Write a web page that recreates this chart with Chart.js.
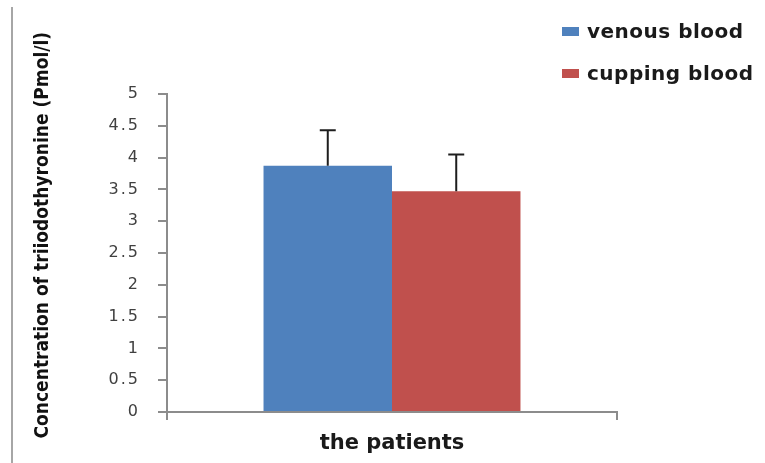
<!DOCTYPE html>
<html>
<head>
<meta charset="utf-8">
<script src="https://cdn.jsdelivr.net/npm/chart.js@4/dist/chart.umd.min.js"></script>
<style>
  html, body { margin: 0; padding: 0; background: #fff; }
  #wrap { width: 765px; height: 463px; }
</style>
</head>
<body>
<div id="wrap"><canvas id="chart"></canvas></div>
<script>
const categories = ['the patients'];
const seriesNames = ['venous blood', 'cupping blood'];
const venousValues = [3.87];
const cuppingValues = [3.47];
const venousErrors = [0.56];
const cuppingErrors = [0.58];
const yTicks = [0, 0.5, 1, 1.5, 2, 2.5, 3, 3.5, 4, 4.5, 5];
const yTitle = 'Concentration of triiodothyronine (Pmol/l)';

const axisGrey = '#8c8c8c';

// error bars on top of each bar
const errorBars = {
    id: 'errorBars',
    afterDatasetsDraw (chart) {
        const ctx = chart.ctx;
        const y = chart.scales.y;
        ctx.save();
        ctx.strokeStyle = '#1e1e1e';
        ctx.lineWidth = 2;
        chart.data.datasets.forEach((ds, i) => {
            chart.getDatasetMeta(i).data.forEach((bar, j) => {
                const top = y.getPixelForValue(ds.data[j] + ds.errors[j]);
                ctx.beginPath();
                ctx.moveTo(bar.x, bar.y);
                ctx.lineTo(bar.x, top);
                ctx.moveTo(bar.x - 8, top);
                ctx.lineTo(bar.x + 8, top);
                ctx.stroke();
            });
        });
        ctx.restore();
    }
};

// the y tick labels in the picture are wide, so space their letters a little
const wideTicks = {
    id: 'wideTicks',
    afterLayout (chart) {
        const scale = chart.scales.y;
        if (scale._wide) return;
        const orig = scale.drawLabels;
        scale.drawLabels = function (area) {
            const ctx = this.ctx;
            ctx.save();
            ctx.letterSpacing = '2px';
            orig.call(this, area);
            ctx.restore();
        };
        scale._wide = true;
    }
};

// legend in the top right corner and the frame line at the left
const sideBits = {
    id: 'sideBits',
    afterDraw (chart) {
        const ctx = chart.ctx;
        ctx.save();
        ctx.fillStyle = '#a6a6a6';
        ctx.fillRect(11, 7, 2, 456);
        ctx.font = 'bold 20px "DejaVu Sans"';
        ctx.letterSpacing = '0.5px';
        ctx.textBaseline = 'alphabetic';
        chart.data.datasets.forEach((ds, i) => {
            const yy = 38 + i * 42;
            ctx.fillStyle = ds.backgroundColor;
            ctx.fillRect(562, yy - 11, 17, 9);
            ctx.fillStyle = '#1a1a1a';
            ctx.fillText(ds.label, 587, yy);
        });
        ctx.restore();
    }
};

new Chart(document.getElementById('chart'), {
    type: 'bar',
    data: {
        labels: categories,
        datasets: [
            { label: seriesNames[0], data: venousValues, errors: venousErrors, backgroundColor: '#4f81bd' },
            { label: seriesNames[1], data: cuppingValues, errors: cuppingErrors, backgroundColor: '#c0504d' }
        ]
    },
    options: {
        responsive: true,
        maintainAspectRatio: false,
        animation: false,
        layout: { padding: { top: 94, right: 148, bottom: 0, left: 0 } },
        plugins: {
            legend: { display: false },
            tooltip: { enabled: false }
        },
        datasets: {
            bar: { categoryPercentage: 0.571, barPercentage: 1 }
        },
        scales: {
            x: {
                grid: { display: true, drawOnChartArea: false, offset: true, color: axisGrey, tickLength: 8, lineWidth: 2 },
                border: { color: axisGrey, width: 2 },
                ticks: { display: false },
                title: {
                    display: true,
                    text: categories[0],
                    color: '#1a1a1a',
                    font: { family: 'DejaVu Sans', weight: 'bold', size: 21 },
                    padding: { top: 0, bottom: 7 }
                },
                afterFit: (scale) => { scale.height = 51; }
            },
            y: {
                min: 0,
                max: 5,
                afterBuildTicks: (scale) => { scale.ticks = yTicks.map(v => ({ value: v })); },
                grid: { display: true, drawOnChartArea: false, color: axisGrey, tickLength: 9, lineWidth: 2 },
                border: { color: axisGrey, width: 2 },
                ticks: {
                    color: '#404040',
                    font: { family: 'DejaVu Sans', size: 16 },
                    padding: 18,
                    callback: (value) => String(value)
                },
                title: {
                    display: true,
                    text: '      ' + yTitle,
                    color: '#111',
                    font: { family: '"DejaVu Sans Condensed", "DejaVu Sans", sans-serif', weight: 'bold condensed', size: 19 },
                    padding: { top: 32, bottom: 0 }
                },
                afterFit: (scale) => { scale.width = 167; }
            }
        }
    },
    plugins: [wideTicks, errorBars, sideBits]
});
</script>
</body>
</html>
